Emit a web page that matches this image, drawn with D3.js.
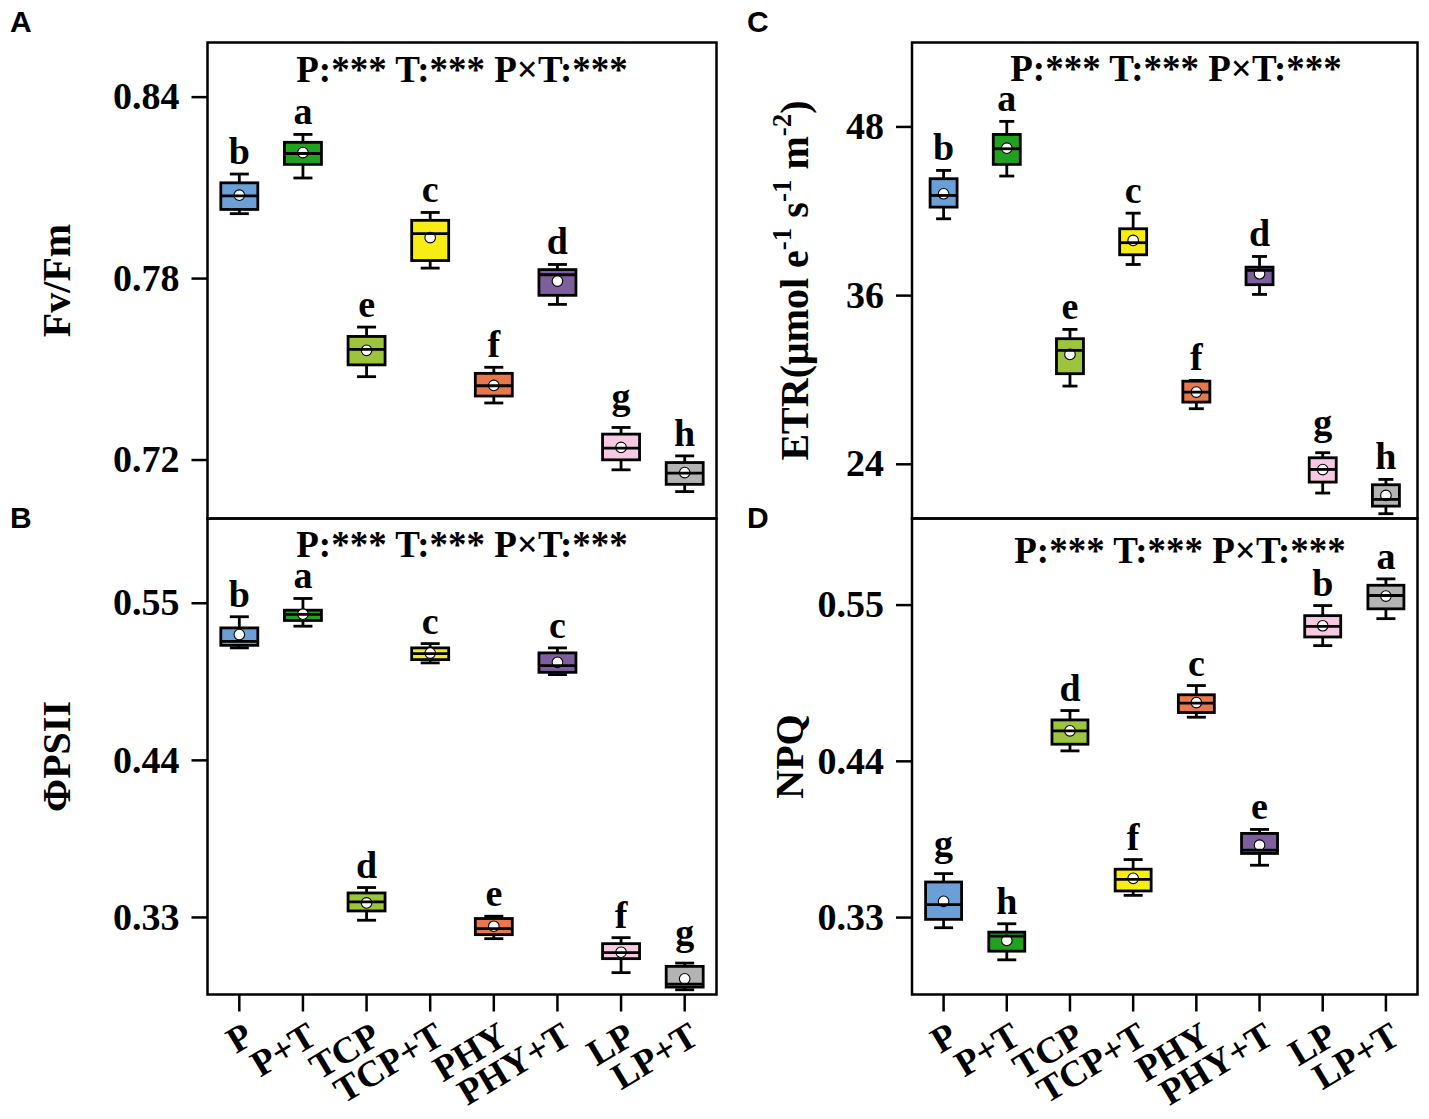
<!DOCTYPE html>
<html><head><meta charset="utf-8">
<script src="https://cdn.jsdelivr.net/npm/d3@7"></script>
<style>body{margin:0;background:#fff}</style>
</head><body><svg id="chart" width="1429" height="1119"></svg>
<script>
// ---------- data ----------
const categories = ["P","P+T","TCP","TCP+T","PHY","PHY+T","LP","LP+T"];
const palette = ["#6A9FD8","#22A020","#9CC43C","#F7EC13","#E8784C","#7D5F9D","#F8C9E2","#B3B3B3"];
const headerText = "P:*** T:*** P×T:***";

// A: Fv/Fm
const fvfmLow  = [0.8013,0.8131,0.7474,0.7833,0.7387,0.7713,0.7166,0.7094];
const fvfmQ1   = [0.8027,0.8176,0.7513,0.7858,0.7410,0.7743,0.7199,0.7118];
const fvfmMed  = [0.8072,0.8212,0.7564,0.7947,0.7444,0.7811,0.7238,0.7155];
const fvfmQ3   = [0.8115,0.8249,0.7607,0.7991,0.7485,0.7828,0.7284,0.7190];
const fvfmHigh = [0.8144,0.8275,0.7638,0.8017,0.7505,0.7845,0.7306,0.7212];
const fvfmMean = [0.8074,0.8215,0.7561,0.7934,0.7445,0.7790,0.7240,0.7157];
const fvfmLetters = ["b","a","e","c","f","d","g","h"];
const fvfmTicks = [0.72,0.78,0.84];
const fvfmDomain = [0.7005,0.8579];

// B: ΦPSII
const psiiLow  = [0.5184,0.5336,0.3277,0.5079,0.3148,0.4997,0.2910,0.2790];
const psiiQ1   = [0.5202,0.5376,0.3342,0.5102,0.3176,0.5013,0.3008,0.2809];
const psiiMed  = [0.5230,0.5418,0.3405,0.5144,0.3218,0.5060,0.3050,0.2830];
const psiiQ3   = [0.5324,0.5448,0.3468,0.5184,0.3289,0.5149,0.3113,0.2954];
const psiiHigh = [0.5402,0.5530,0.3506,0.5214,0.3305,0.5184,0.3155,0.2977];
const psiiMean = [0.5277,0.5420,0.3398,0.5148,0.3235,0.5083,0.3053,0.2867];
const psiiLetters = ["b","a","d","c","e","c","f","g"];
const psiiTicks = [0.33,0.44,0.55];
const psiiDomain = [0.2757,0.609];

// C: ETR
const etrLow  = [41.43,44.47,29.53,38.18,27.92,36.05,21.92,20.45];
const etrQ1   = [42.26,45.30,30.41,38.87,28.39,36.74,22.70,20.99];
const etrMed  = [43.09,46.41,32.07,39.73,29.10,37.76,23.60,21.47];
const etrQ3   = [44.28,47.43,32.90,40.72,29.88,37.99,24.43,22.51];
const etrHigh = [44.87,48.36,33.56,41.83,29.93,38.75,24.79,22.89];
const etrMean = [43.21,46.45,31.78,39.89,29.10,37.52,23.59,21.75];
const etrLetters = ["b","a","e","c","f","d","g","h"];
const etrTicks = [24,36,48];
const etrDomain = [20.11,53.97];

// D: NPQ
const npqLow  = [0.3225,0.2999,0.4470,0.3453,0.4707,0.3665,0.5211,0.5401];
const npqQ1   = [0.3284,0.3060,0.4517,0.3484,0.4740,0.3748,0.5272,0.5470];
const npqMed  = [0.3388,0.3166,0.4611,0.3566,0.4806,0.3771,0.5347,0.5564];
const npqQ3   = [0.3547,0.3194,0.4688,0.3637,0.4865,0.3889,0.5422,0.5636];
const npqHigh = [0.3606,0.3253,0.4754,0.3705,0.4930,0.3917,0.5493,0.5681];
const npqMean = [0.3411,0.3136,0.4611,0.3573,0.4810,0.3806,0.5351,0.5560];
const npqLetters = ["g","h","d","f","c","e","b","a"];
const npqTicks = [0.33,0.44,0.55];
const npqDomain = [0.2755,0.6106];

// ---------- layout ----------
const serif = "'Liberation Serif','Times New Roman',Times,serif";
const sans = "'Liberation Sans',Arial,Helvetica,sans-serif";
const svg = d3.select("#chart");

const panels = [
  {tag:"A", tagX:10, tagY:32, low:fvfmLow,q1:fvfmQ1,med:fvfmMed,q3:fvfmQ3,high:fvfmHigh,mean:fvfmMean,letters:fvfmLetters,
   ticks:fvfmTicks, domain:fvfmDomain, fmt:d3.format(".2f"), left:207.5,right:716.5,top:42.5,bottom:518.5,
   boxW:37, capW:19, hx:462, hy:82, title:"Fv/Fm", titleX:70, xAxis:false},
  {tag:"B", tagX:10, tagY:528, low:psiiLow,q1:psiiQ1,med:psiiMed,q3:psiiQ3,high:psiiHigh,mean:psiiMean,letters:psiiLetters,
   ticks:psiiTicks, domain:psiiDomain, fmt:d3.format(".2f"), left:207.5,right:716.5,top:518.5,bottom:994.5,
   boxW:37, capW:19, hx:462, hy:557, title:"ΦPSII", titleX:70, xAxis:true},
  {tag:"C", tagX:747, tagY:32, low:etrLow,q1:etrQ1,med:etrMed,q3:etrQ3,high:etrHigh,mean:etrMean,letters:etrLetters,
   ticks:etrTicks, domain:etrDomain, fmt:d3.format("d"), left:912,right:1417.5,top:42.5,bottom:518.5,
   boxW:27, capW:15, hx:1176, hy:81, title:"ETR", titleX:808, xAxis:false},
  {tag:"D", tagX:747, tagY:528, low:npqLow,q1:npqQ1,med:npqMed,q3:npqQ3,high:npqHigh,mean:npqMean,letters:npqLetters,
   ticks:npqTicks, domain:npqDomain, fmt:d3.format(".2f"), left:912,right:1417.5,top:518.5,bottom:994.5,
   boxW:36, capW:19, hx:1180, hy:563, title:"NPQ", titleX:803, xAxis:true}
];

const lw = 2.8;

panels.forEach(p => {
  const x = d3.scaleBand().domain(categories).range([p.left, p.right]).padding(0);
  const y = d3.scaleLinear().domain(p.domain).range([p.bottom, p.top]);
  const cx = c => x(c) + x.bandwidth()/2;
  const g = svg.append("g");

  // y axis
  const ya = g.append("g").attr("transform", `translate(${p.left},0)`)
    .call(d3.axisLeft(y).tickValues(p.ticks).tickFormat(p.fmt).tickSize(16).tickPadding(12));
  ya.select(".domain").remove();
  ya.selectAll(".tick line").attr("stroke","#000").attr("stroke-width",2.5);
  ya.selectAll(".tick text").attr("font-family",serif).attr("font-weight","bold")
    .attr("font-size",38).attr("fill","#000");

  // x axis (bottom panels only)
  if (p.xAxis) {
    const xa = g.append("g").attr("transform", `translate(0,${p.bottom})`)
      .call(d3.axisBottom(x).tickSize(17).tickPadding(0));
    xa.select(".domain").remove();
    xa.selectAll(".tick line").attr("stroke","#000").attr("stroke-width",2.5);
    xa.selectAll(".tick text")
      .attr("y",0).attr("dy",0).attr("x",0)
      .attr("transform","translate(16,48) rotate(-31)")
      .attr("text-anchor","end")
      .attr("font-family",serif).attr("font-weight","bold")
      .attr("font-size",37).attr("fill","#000");
  }

  // boxes
  const items = categories.map((c,i) => ({c, i, lo:p.low[i], q1:p.q1[i], md:p.med[i], q3:p.q3[i], hi:p.high[i], mn:p.mean[i], L:p.letters[i]}));
  const bg = g.selectAll(".bx").data(items).join("g");
  bg.append("line").attr("x1",d=>cx(d.c)).attr("x2",d=>cx(d.c))
    .attr("y1",d=>y(d.lo)).attr("y2",d=>y(d.hi)).attr("stroke","#000").attr("stroke-width",lw);
  bg.append("line").attr("x1",d=>cx(d.c)-p.capW/2).attr("x2",d=>cx(d.c)+p.capW/2)
    .attr("y1",d=>y(d.hi)).attr("y2",d=>y(d.hi)).attr("stroke","#000").attr("stroke-width",lw);
  bg.append("line").attr("x1",d=>cx(d.c)-p.capW/2).attr("x2",d=>cx(d.c)+p.capW/2)
    .attr("y1",d=>y(d.lo)).attr("y2",d=>y(d.lo)).attr("stroke","#000").attr("stroke-width",lw);
  bg.append("rect").attr("x",d=>cx(d.c)-p.boxW/2).attr("width",p.boxW)
    .attr("y",d=>y(d.q3)).attr("height",d=>y(d.q1)-y(d.q3))
    .attr("fill",d=>palette[d.i]).attr("stroke","#000").attr("stroke-width",lw);
  bg.append("circle").attr("cx",d=>cx(d.c)).attr("cy",d=>y(d.mn)).attr("r",5.3)
    .attr("fill","#fff").attr("stroke","#000").attr("stroke-width",1.1);
  bg.append("line").attr("x1",d=>cx(d.c)-p.boxW/2).attr("x2",d=>cx(d.c)+p.boxW/2)
    .attr("y1",d=>y(d.md)).attr("y2",d=>y(d.md)).attr("stroke","#000").attr("stroke-width",lw);
  bg.append("text").attr("x",d=>cx(d.c))
    .attr("y",d=>y(d.hi) - 10 - (/[gjpqy]/.test(d.L) ? 8 : 0))
    .attr("text-anchor","middle").attr("font-family",serif).attr("font-weight","bold")
    .attr("font-size",38).attr("fill","#000").text(d=>d.L);

  // frame
  g.append("rect").attr("x",p.left).attr("y",p.top).attr("width",p.right-p.left).attr("height",p.bottom-p.top)
    .attr("fill","none").attr("stroke","#000").attr("stroke-width",2.5);

  // header
  g.append("text").attr("x",p.hx).attr("y",p.hy).attr("text-anchor","middle")
    .attr("font-family",serif).attr("font-weight","bold").attr("font-size",37).attr("fill","#000")
    .text(headerText);

  // panel tag
  svg.append("text").attr("x",p.tagX).attr("y",p.tagY).attr("font-family",sans).attr("font-weight","bold")
    .attr("font-size",30).attr("fill","#000").text(p.tag);

  // y title
  const cy = (p.top+p.bottom)/2;
  const t = svg.append("text").attr("transform",`translate(${p.titleX},${cy}) rotate(-90)`)
    .attr("text-anchor","middle").attr("font-family",serif).attr("font-weight","bold")
    .attr("font-size",40).attr("fill","#000");
  if (p.title === "ETR") {
    t.append("tspan").text("ETR(μmol e");
    t.append("tspan").attr("font-size",27).attr("dy",-17).text("-1");
    t.append("tspan").attr("dy",17).text(" s");
    t.append("tspan").attr("font-size",27).attr("dy",-17).text("-1");
    t.append("tspan").attr("dy",17).text(" m");
    t.append("tspan").attr("font-size",27).attr("dy",-17).text("-2");
    t.append("tspan").attr("dy",17).text(")");
  } else {
    t.text(p.title);
  }
});
</script></body></html>
